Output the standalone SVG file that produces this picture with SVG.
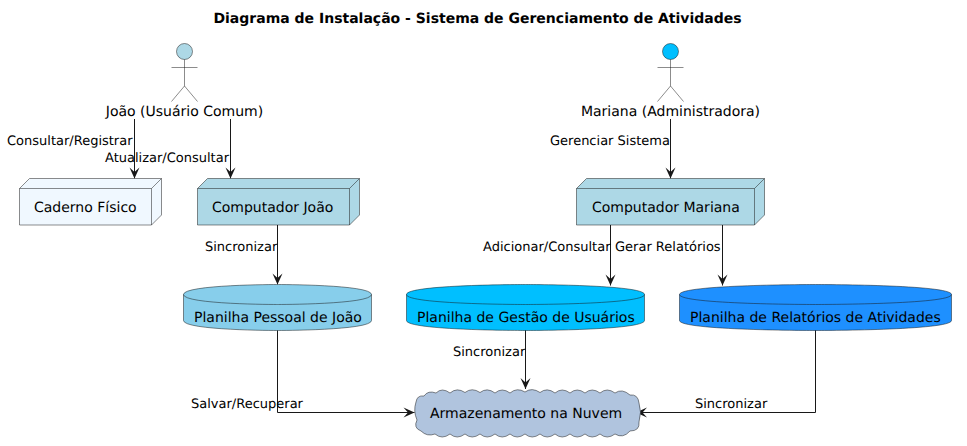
<svg xmlns="http://www.w3.org/2000/svg" width="967" height="446" viewBox="0 0 967 446">
<defs>
<marker id="arrow" markerUnits="userSpaceOnUse" markerWidth="13" markerHeight="12" viewBox="-12 -6 13 12" refX="0" refY="0" orient="auto">
<path d="M0,0 L-11,-5 L-6.500,0 L-11,5 Z" fill="#181818"/>
</marker>
</defs>
<style>
text{font-family:"DejaVu Sans",sans-serif;font-size:14px;fill:#000;text-rendering:geometricPrecision}
.l{font-size:13px}
.t{font-weight:bold}
.n{stroke:#181818;stroke-width:.5}
.nf{fill:none;stroke:#181818;stroke-width:.5}
.c{fill:none;stroke:#181818;stroke-width:1;marker-end:url(#arrow)}
</style>
<rect width="967" height="446" fill="#fff"/>
<text class="t" x="477.5" y="23" text-anchor="middle">Diagrama de Instalação - Sistema de Gerenciamento de Atividades</text>
<g id="connectors">
<path class="c" d="M134.500,119V178.500"/>
<path class="c" d="M230.500,119V178.500"/>
<path class="c" d="M670.500,119V178.500"/>
<path class="c" d="M277.500,225V284.500"/>
<path class="c" d="M610.500,225V285.500"/>
<path class="c" d="M722.500,225V285.500"/>
<path class="c" d="M525.500,330V389"/>
<path class="c" d="M277.500,330V412.500H414.500"/>
<path class="c" d="M815.500,330V412.500H636"/>
<text class="l" x="7" y="145">Consultar/Registrar</text>
<text class="l" x="105" y="162">Atualizar/Consultar</text>
<text class="l" x="550" y="145">Gerenciar Sistema</text>
<text class="l" x="205" y="251">Sincronizar</text>
<text class="l" x="483" y="251">Adicionar/Consultar</text>
<text class="l" x="615" y="251">Gerar Relatórios</text>
<text class="l" x="453" y="356">Sincronizar</text>
<text class="l" x="191" y="408">Salvar/Recuperar</text>
<text class="l" x="695" y="408">Sincronizar</text>
</g>
<g id="joao">
<circle class="n" cx="184.500" cy="51.500" r="8" fill="#ADD8E6"/>
<path class="nf" d="M184.500,59.500V86M171.500,67.500H197.500M184.500,86L171.500,101.500M184.500,86L197.500,101.500"/>
<text x="184.500" y="116" text-anchor="middle">João (Usuário Comum)</text>
</g>
<g id="mariana">
<circle class="n" cx="670.500" cy="51.500" r="8" fill="#00BFFF"/>
<path class="nf" d="M670.500,59.500V86M657.500,67.500H683.500M670.500,86L657.500,101.500M670.500,86L683.500,101.500"/>
<text x="670.500" y="116" text-anchor="middle">Mariana (Administradora)</text>
</g>
<g id="caderno">
<path class="n" fill="#F0F8FF" d="M19.500,188.500L29.500,178.500H161.500V215L151.500,225H19.500Z"/>
<path class="nf" d="M19.500,188.500H151.500V225M151.500,188.500L161.500,178.500"/>
<text x="34" y="212">Caderno Físico</text>
</g>
<g id="computador-joao">
<path class="n" fill="#ADD8E6" d="M197.500,188.500L207.500,178.500H359.500V215L349.500,225H197.500Z"/>
<path class="nf" d="M197.500,188.500H349.500V225M349.500,188.500L359.500,178.500"/>
<text x="212" y="212">Computador João</text>
</g>
<g id="computador-mariana">
<path class="n" fill="#ADD8E6" d="M576.500,188.500L586.500,178.500H764.500V215L754.500,225H576.500Z"/>
<path class="nf" d="M576.500,188.500H754.500V225M754.500,188.500L764.500,178.500"/>
<text x="592" y="212">Computador Mariana</text>
</g>
<g id="planilha-joao">
<path class="n" fill="#87CEEB" d="M183.500,294.500C183.500,284.500 277.500,284.500 277.500,284.500C277.500,284.500 371.500,284.500 371.500,294.500V320.500C371.500,330.500 277.500,330.500 277.500,330.500C277.500,330.500 183.500,330.500 183.500,320.500Z"/>
<path class="nf" d="M183.500,294.500C183.500,304.500 277.500,304.500 277.500,304.500C277.500,304.500 371.500,304.500 371.500,294.500"/>
<text x="194" y="322">Planilha Pessoal de João</text>
</g>
<g id="planilha-gestao">
<path class="n" fill="#00BFFF" d="M406.500,294.500C406.500,284.500 525.500,284.500 525.500,284.500C525.500,284.500 644.500,284.500 644.500,294.500V320.500C644.500,330.500 525.500,330.500 525.500,330.500C525.500,330.500 406.500,330.500 406.500,320.500Z"/>
<path class="nf" d="M406.500,294.500C406.500,304.500 525.500,304.500 525.500,304.500C525.500,304.500 644.500,304.500 644.500,294.500"/>
<text x="417" y="322">Planilha de Gestão de Usuários</text>
</g>
<g id="planilha-relatorios">
<path class="n" fill="#1E90FF" d="M679.500,294.500C679.500,284.500 815.500,284.500 815.500,284.500C815.500,284.500 951.500,284.500 951.500,294.500V320.500C951.500,330.500 815.500,330.500 815.500,330.500C815.500,330.500 679.500,330.500 679.500,320.500Z"/>
<path class="nf" d="M679.500,294.500C679.500,304.500 815.500,304.500 815.500,304.500C815.500,304.500 951.500,304.500 951.500,294.500"/>
<text x="690" y="322">Planilha de Relatórios de Atividades</text>
</g>
<g id="nuvem">
<path class="n" fill="#B0C4DE" d="M416,402Q417,395 424,396Q428,390 436,393Q442,387 450,393Q457,387 465,392.500Q472,387 480,392.500Q487,387 495,393Q502,387 510,393Q517,387 525,392Q532,387 540,392.500Q547,387 555,393Q562,387 570,393Q577,387 585,393Q592,387 600,393Q607,387 615,393Q622,388 630,395Q638,394 639,403Q642,412 639,422Q640,431 630,431Q623,439 615,434Q607,440 600,434Q592,440 585,434Q577,440 570,434Q562,440 555,434Q547,440 540,434Q532,440 525,434Q517,440 510,434Q502,440 495,434Q487,440 480,434Q472,440 465,434Q457,440 450,434Q442,440 435,434Q427,437 421,431Q413,428 417,420Q413,411 416,402Z"/>
<text x="430" y="418">Armazenamento na Nuvem</text>
</g>
</svg>
